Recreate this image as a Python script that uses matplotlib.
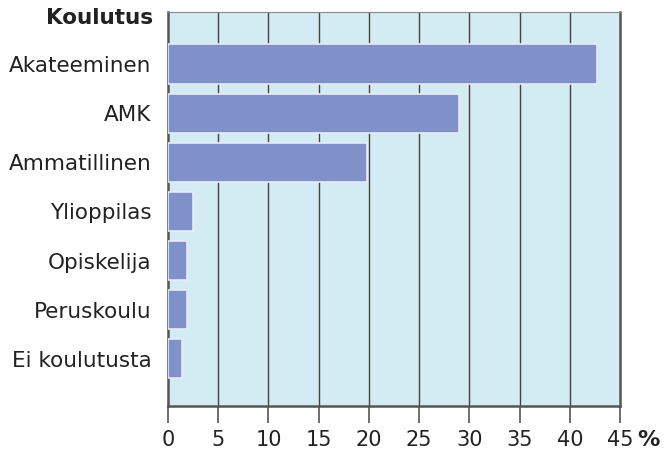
import matplotlib.pyplot as plt

categories = ['Akateeminen', 'AMK', 'Ammatillinen', 'Ylioppilas',
              'Opiskelija', 'Peruskoulu', 'Ei koulutusta']
values = [42.7, 29.0, 19.8, 2.5, 1.9, 1.9, 1.4]
xticks = [0, 5, 10, 15, 20, 25, 30, 35, 40, 45]

fig = plt.figure(figsize=(6.68, 4.53), dpi=100)
ax = fig.add_axes([168 / 668, 1 - 406 / 453, 452 / 668, 394 / 453])
ax.set_facecolor('#d3ebf2')

ypos = range(len(categories))
ax.barh(ypos, values, height=0.8, color='#8090c8', edgecolor='#e8ecf8',
        linewidth=1.2, zorder=3)

ax.set_xlim(0, 45)
ax.set_ylim(6.96, -1.06)
ax.set_xticks(xticks)
ax.set_xticklabels([str(t) for t in xticks], fontsize=15, color='#222222')
ax.set_yticks(list(ypos))
ax.set_yticklabels(categories, fontsize=15.5, color='#222222')
ax.tick_params(axis='y', length=0, pad=12)
ax.tick_params(axis='x', length=12, width=1.2, color='#555555', pad=5)

for t in xticks[1:-1]:
    ax.axvline(t, color='#444444', linewidth=1.0, zorder=2)

for s in ['left', 'right', 'bottom']:
    ax.spines[s].set_color('#555555')
    ax.spines[s].set_linewidth(1.8)
ax.spines['top'].set_color('#888888')
ax.spines['top'].set_linewidth(0.8)

fig.text(153 / 668, 1 - 18 / 453, 'Koulutus', ha='right', va='center',
         fontsize=15.5, fontweight='bold', color='#222222')
fig.text(637 / 668, 1 - 440 / 453, '%', ha='left', va='center',
         fontsize=16, fontweight='bold', color='#222222')

fig.savefig('out.png', dpi=100)
